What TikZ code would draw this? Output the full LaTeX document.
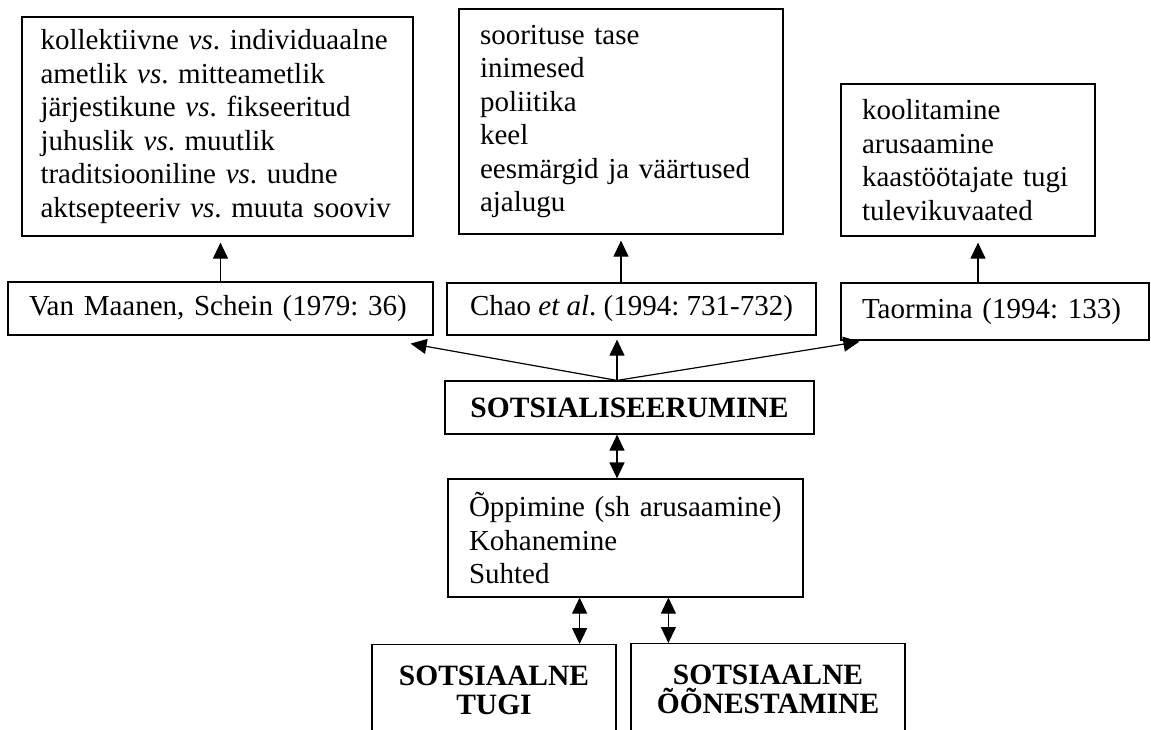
\documentclass[tikz,border=0pt]{standalone}
\usepackage{fontspec}
\setmainfont{Liberation Serif}
\frenchspacing
\usetikzlibrary{arrows.meta, positioning}

\tikzset{
  listbox/.style={draw, line width=0.6pt, align=left, inner xsep=10.5pt, inner ysep=0pt,
    font=\fontsize{14.5}{16.75}\selectfont},
  refbox/.style={draw, line width=0.6pt, align=left, inner xsep=10.5pt, inner ysep=0pt,
    font=\fontsize{14.5}{16.75}\selectfont},
  keybox/.style={draw, line width=0.6pt, align=center, inner xsep=6pt, inner ysep=0pt,
    font=\fontsize{14.75}{14.5}\selectfont\bfseries},
}

\begin{document}
\begin{tikzpicture}[x=0.5pt, y=-0.5pt, line width=0.6pt,
  >={Triangle[length=8pt,width=7.5pt]}]
\useasboundingbox (0,0) rectangle (1151,729);
\clip (0,0) rectangle (1151,729);

% Top lists
\node[listbox, inner xsep=9.25pt, text width=177pt, minimum height=109.5pt] (types) at (217.5,126.5)
  {kollektiivne \textit{vs}. individuaalne\\
   ametlik \textit{vs}. mitteametlik\\
   järjestikune \textit{vs}. fikseeritud\\
   juhuslik \textit{vs}. muutlik\\
   traditsiooniline \textit{vs}. uudne\\
   aktsepteeriv \textit{vs}. muuta sooviv};
\node[listbox, text width=141pt, minimum height=112.5pt] (content) at (621,121.5)
  {soorituse tase\\ inimesed\\ poliitika\\ keel\\ eesmärgid ja väärtused\\ ajalugu};
\node[listbox, text width=106pt, minimum height=76pt] (tasks) at (968,160)
  {koolitamine\\ arusaamine\\ kaastöötajate tugi\\ tulevikuvaated};

% Sources
\node[refbox, text width=191.5pt, minimum height=26.5pt] (vanmaanen) at (220.5,308.5)
  {Van Maanen, Schein (1979: 36)};
\node[refbox, align=center, minimum width=184.5pt, minimum height=26pt] (chao) at (631.5,309)
  {Chao \textit{et al}. (1994: 731-732)};
\node[refbox, text width=133pt, minimum height=28.5pt] (taormina) at (995,311.5)
  {Taormina (1994: 133)};

% Centre
\node[keybox, text width=172.5pt, minimum height=26.5pt] (sots) at (629.5,407.5)
  {SOTSIALISEERUMINE};
\node[listbox, text width=156.5pt, minimum height=59pt] (learning) at (625.5,538)
  {Õppimine (sh arusaamine)\\ Kohanemine\\ Suhted};

% Bottom
\node[keybox, text width=110pt, minimum height=46pt, anchor=north] (support) at (494,644)
  {SOTSIAALNE\\ TUGI};
\node[keybox, text width=125pt, minimum height=46pt, anchor=north] (embed) at (768,643)
  {SOTSIAALNE\\ ÕÕNESTAMINE};

% Arrows up to the lists
\coordinate (t3) at ([xshift=5pt]tasks.south);
\draw[->, shorten >=3pt] (vanmaanen.north) -- (vanmaanen.north |- types.south);
\draw[->, shorten >=3pt] (content.south |- chao.north) -- (content.south);
\draw[->, shorten >=3pt] (t3 |- taormina.north) -- (t3);

% Fan from SOTSIALISEERUMINE
\coordinate (hub) at ([xshift=-6.25pt]sots.north);
\draw[->] (hub) -- ([xshift=-11.5pt,yshift=-4pt]vanmaanen.south east);
\draw[->, shorten >=2pt] (hub) -- (hub |- chao.south);
\draw[->] (hub) -- ([xshift=9.5pt,yshift=-0.5pt]taormina.south west);

% Two-way links
\coordinate (tl) at ([xshift=-18.5pt]support.north east);
\coordinate (tr) at ([xshift=19pt]embed.north west);
\draw[<->] (hub |- sots.south) -- (hub |- learning.north);
\draw[<->] (tl |- learning.south) -- (tl);
\draw[<->] (tr |- learning.south) -- (tr);
\end{tikzpicture}
\end{document}
